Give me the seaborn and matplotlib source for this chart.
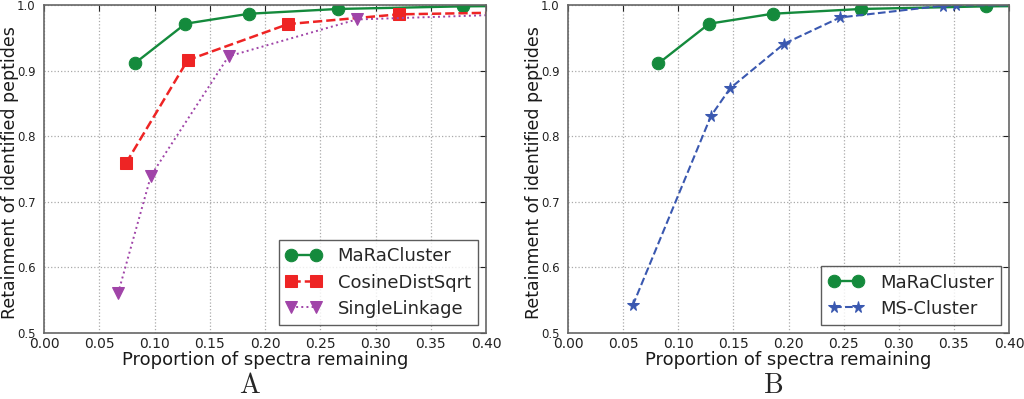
import matplotlib
matplotlib.use("Agg")
import matplotlib.pyplot as plt
import seaborn as sns
import numpy as np

# ---- data ----
mara_x = [0.082, 0.128, 0.1855, 0.266, 0.3795, 0.50]
mara_y = [0.911, 0.9715, 0.9867, 0.994, 0.998, 0.9995]

cos_x = [0.0742, 0.130, 0.221, 0.321, 0.50]
cos_y = [0.759, 0.916, 0.971, 0.9858, 0.991]

single_x = [0.067, 0.0968, 0.167, 0.283, 0.50]
single_y = [0.5605, 0.740, 0.9218, 0.978, 0.990]

ms_x = [0.0587, 0.1297, 0.147, 0.196, 0.2467, 0.340, 0.352, 0.50]
ms_y = [0.542, 0.831, 0.873, 0.941, 0.981, 0.999, 0.9995, 1.0]

xticks = [0.00, 0.05, 0.10, 0.15, 0.20, 0.25, 0.30, 0.35, 0.40]
yticks = [0.5, 0.6, 0.7, 0.8, 0.9, 1.0]

GREEN = "#148a3c"
RED = "#ee2424"
PURPLE = "#a044a8"
BLUE = "#3a58b0"

sns.set_style("white")
plt.rcParams["font.family"] = ["DejaVu Sans"]
plt.rcParams["mathtext.fontset"] = "cm"

fig = plt.figure(figsize=(10.24, 3.99), dpi=100)
axA = fig.add_axes([0.043, 0.1654, 0.4316, 0.822])
axB = fig.add_axes([0.5547, 0.1654, 0.4307, 0.822])

def style(ax):
    ax.set_xlim(0, 0.40)
    ax.set_ylim(0.5, 1.0)
    ax.set_xticks(xticks)
    ax.set_xticklabels([f"{t:.2f}" for t in xticks])
    ax.set_yticks(yticks)
    ax.set_yticklabels([f"{t:.1f}" for t in yticks])
    ax.grid(True, linestyle=":", color="#aaaaaa", linewidth=0.9)
    ax.tick_params(direction="in", length=4, top=True, right=True,
                   colors="#222222", pad=3)
    ax.tick_params(axis="x", labelsize=10)
    ax.tick_params(axis="y", labelsize=8.5, pad=6)
    for s in ax.spines.values():
        s.set_color("#666666")
        s.set_linewidth(1.2)
    ax.set_xlabel("Proportion of spectra remaining", fontsize=13, color="#1a1a1a", labelpad=0)
    ax.set_ylabel("Retainment of identified peptides", fontsize=12.5, color="#1a1a1a")
    ax.yaxis.set_label_coords(-0.0565, 0.49)

sns.lineplot(x=mara_x, y=mara_y, ax=axA, color=GREEN, marker="o", markersize=9,
             markeredgecolor=GREEN, linestyle="-", linewidth=1.7, label="MaRaCluster")
sns.lineplot(x=cos_x, y=cos_y, ax=axA, color=RED, marker="s", markersize=9,
             markeredgecolor=RED, linestyle="--", linewidth=1.8, label="CosineDistSqrt")
sns.lineplot(x=single_x, y=single_y, ax=axA, color=PURPLE, marker="v", markersize=9,
             markeredgecolor=PURPLE, linestyle=":", linewidth=1.4, label="SingleLinkage")

sns.lineplot(x=mara_x, y=mara_y, ax=axB, color=GREEN, marker="o", markersize=9,
             markeredgecolor=GREEN, linestyle="-", linewidth=1.7, label="MaRaCluster")
sns.lineplot(x=ms_x, y=ms_y, ax=axB, color=BLUE, marker="*", markersize=8.5,
             markeredgecolor=BLUE, linestyle="--", linewidth=1.5, label="MS-Cluster")

for ax in (axA, axB):
    style(ax)
    leg = ax.legend(loc="lower right", numpoints=2, fontsize=13, frameon=True,
                    fancybox=False, edgecolor="#333333", borderpad=0.4,
                    handlelength=1.95, labelspacing=0.45, borderaxespad=0.45,
                    handletextpad=0.9)
    leg.get_frame().set_linewidth(1.0)

fig.text(0.244, 0.0, r"$\mathrm{A}$", fontsize=20, ha="center", va="bottom")
fig.text(0.755, 0.0, r"$\mathrm{B}$", fontsize=20, ha="center", va="bottom")

fig.savefig("out.png", dpi=100)
